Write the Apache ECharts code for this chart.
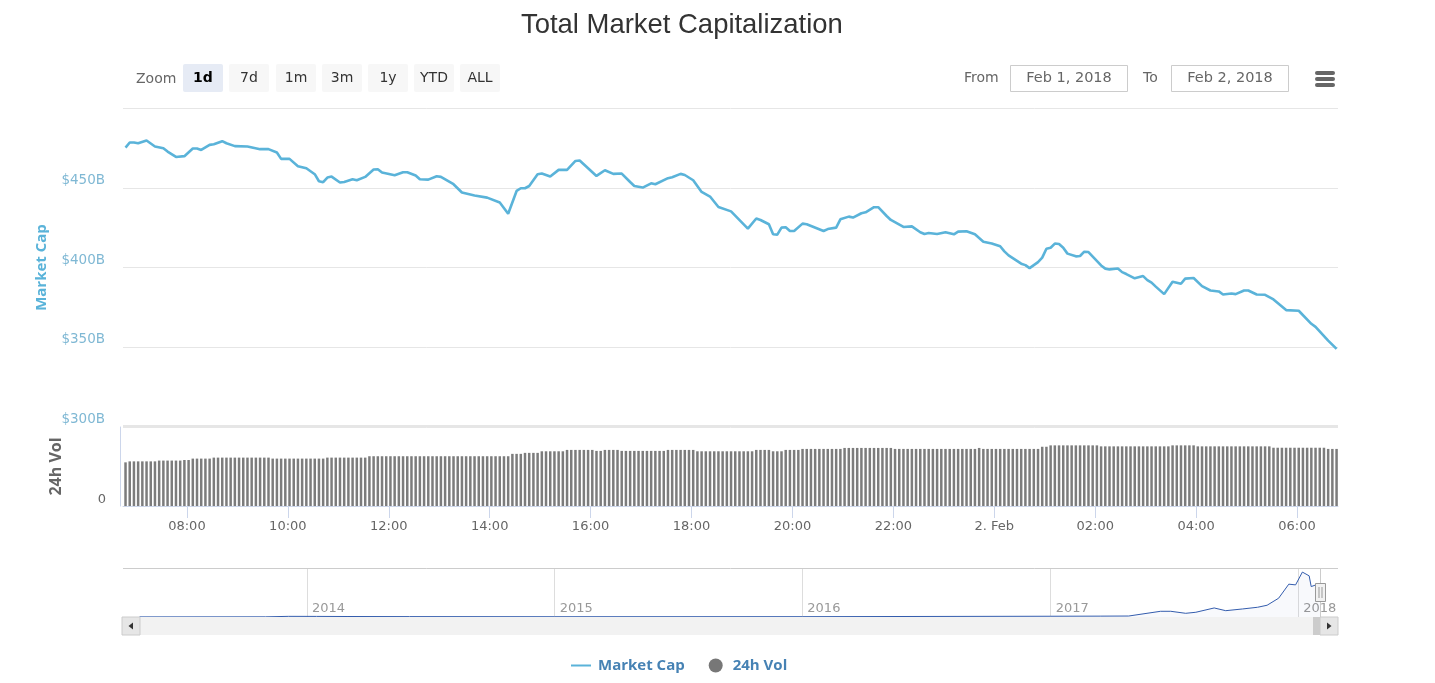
<!DOCTYPE html>
<html><head><meta charset="utf-8">
<style>html,body{margin:0;padding:0;background:#fff}#c{width:1435px;height:683px}</style>
<script src="https://cdn.jsdelivr.net/npm/echarts@6/dist/echarts.min.js"></script>
</head><body><div id="c"></div>
<script>
// ---- data ----
const titleText = 'Total Market Capitalization';
const seriesCap = 'Market Cap', seriesVol = '24h Vol';
const capTicks = [300, 350, 400, 450, 500];
const timeTickHours = [8, 10, 12, 14, 16, 18, 20, 22, 24, 26, 28, 30];
const rangeButtons = ['1d', '7d', '1m', '3m', '1y', 'YTD', 'ALL'];
const fromText = 'Feb 1, 2018', toText = 'Feb 2, 2018';
// Market cap ($B): step = number of 5-minute samples after the first sample
const capSteps = [0,1,2,3,5,7,9,10,12,14,16,17,18,20,21,23,24,26,29,32,34,36,37,39,41,43,45,46,47,48,49,51,52,54,55,57,59,60,61,64,66,67,69,70,72,74,75,78,80,83,86,89,91,93,94,95,96,98,99,101,103,105,107,108,112,114,116,118,120,121,123,125,126,129,130,132,133,135,137,139,141,144,148,150,151,153,154,155,156,157,158,159,161,162,166,167,169,170,172,173,175,176,178,179,181,182,185,187,189,190,191,193,195,197,198,200,202,204,206,208,209,210,213,214,215,217,218,219,220,221,222,223,224,226,227,228,229,232,233,234,236,237,238,240,242,243,244,245,247,249,251,252,254,256,258,260,261,263,264,266,267,269,271,273,276,279,282,283,286,288];
const capValues = [475.2,478.4,478.4,477.9,479.6,475.9,474.8,472.7,469.3,469.8,474.6,474.6,473.7,476.9,477.3,479.2,477.9,476.1,475.9,474.2,474.2,472.1,468.1,468.1,463.5,462.2,458.5,454.1,453.5,456.4,457.0,453.3,453.6,455.3,454.7,456.8,461.4,461.6,459.5,457.9,459.7,459.7,457.7,455.3,455.1,457.2,456.8,452.2,447.0,445.1,443.8,440.7,433.7,448.0,449.7,449.7,451.1,458.5,458.9,457.0,461.2,461.2,466.8,467.1,457.4,461.0,458.7,458.9,453.6,451.1,450.1,452.8,452.2,456.0,456.6,458.7,458.0,454.7,447.4,444.5,437.9,435.2,424.4,430.7,429.8,427.1,420.8,420.6,425.0,425.2,422.9,422.9,427.5,427.1,422.9,424.1,425.0,430.2,431.9,431.3,434.0,434.6,437.8,437.8,432.3,429.8,425.4,425.8,422.1,421.0,421.6,421.0,422.1,420.8,422.5,422.7,420.8,416.2,415.1,413.3,410.1,407.6,402.4,401.5,399.6,403.4,406.2,411.8,412.4,415.0,414.7,412.4,408.7,407.0,407.2,409.9,409.7,401.3,399.3,398.8,399.4,397.1,395.9,393.2,394.6,392.1,390.5,388.0,383.3,391.1,389.8,393.0,393.4,388.3,385.6,385.0,383.1,383.7,383.3,385.6,385.6,383.1,382.9,380.0,373.3,372.9,364.7,362.8,354.2,349.0];
// 24h volume ($B), as runs of equal-looking bars
const volRunLengths = [1,7,6,2,5,14,13,10,34,3,4,6,7,2,4,11,7,14,4,3,4,10,12,20,1,14,2,12,17,6,18,13,3];
const volRunValues = [22.1,22.6,23.0,23.3,24.0,24.5,24.0,24.5,25.2,26.4,26.9,27.7,28.4,27.9,28.4,27.9,28.4,27.7,28.4,27.7,28.4,28.9,29.4,28.9,29.4,28.9,30.0,30.7,30.2,30.7,30.2,29.5,28.9];
// Navigator: whole history of the market cap ($B)
const navDates = ['2013-04-29','2013-11-01','2013-12-05','2014-01-15','2014-03-01','2014-06-01','2015-01-01','2016-01-01','2017-01-01','2017-03-15','2017-04-26','2017-05-23','2017-06-12','2017-06-27','2017-07-19','2017-08-03','2017-08-30','2017-09-16','2017-10-11','2017-11-02','2017-11-16','2017-12-03','2017-12-18','2017-12-28','2018-01-07','2018-01-17','2018-01-20','2018-01-27','2018-02-02'];
const navCaps = [2,3,12,11,9,7,5,6,14,16,18,68,105,105,68,87,166,116,148,179,216,345,603,590,825,756,559,590,450];
const navYears = [2014, 2015, 2016, 2017, 2018];

// ---- build ----
const MIN = 60000, H = 3600000;
const sampleStart = new Date(2018, 1, 1, 6, 47).getTime();
const day0 = new Date(2018, 1, 1, 0, 0).getTime();
const capData = capSteps.map((s, i) => [sampleStart + s * 5 * MIN, capValues[i]]);
const volData = [];
volRunLengths.forEach((n, r) => { for (let k = 0; k < n; k++) volData.push([sampleStart + volData.length * 5 * MIN, volRunValues[r]]); });
const xMin = new Date(2018, 1, 1, 6, 44).getTime();
const xMax = xMin + 1444.7 * MIN;
const timeTicks = timeTickHours.map(h => day0 + h * H);
const navData = navDates.map((d, i) => { const p = d.split('-'); return [new Date(+p[0], p[1] - 1, +p[2]).getTime(), navCaps[i]]; });
const yearTicks = navYears.map(y => new Date(y, 0, 1).getTime());
const DAY = 24 * H;
const navMin = yearTicks[0] - 271.2 * DAY, navMax = navMin + 1790.7 * DAY;

const L = 123, W = 1215;
const uiFont = '"DejaVu Sans"';
const g = [];
const txt = (x, y, text, o = {}) => g.push({ type: 'text', x, y, z: 20, style: Object.assign({ text, fontFamily: uiFont, fontSize: 14, fill: '#666', verticalAlign: 'middle' }, o) });
const rect = (x, y, w, h, fill, o = {}) => g.push({ type: 'rect', z: 10, shape: { x, y, width: w, height: h, r: o.r || 0 }, style: { fill, stroke: o.stroke || null, lineWidth: o.lw || 0 } });
const line = (x1, y1, x2, y2, stroke, lw = 1) => g.push({ type: 'line', z: 10, shape: { x1, y1, x2, y2 }, style: { stroke, lineWidth: lw } });

txt(136, 79, 'Zoom', { fill: '#666' });
const btnX = [183, 229, 276, 322, 368, 414, 460];
rangeButtons.forEach((b, i) => {
  rect(btnX[i], 64, 40, 28, i === 0 ? '#e6ebf5' : '#f7f7f7', { r: 2 });
  txt(btnX[i] + 20, 78, b, { align: 'center', fill: i === 0 ? '#000' : '#333', fontWeight: i === 0 ? 'bold' : 'normal' });
});
txt(964, 78, 'From');
txt(1143, 78, 'To');
rect(1010.5, 65.5, 117, 26, '#fff', { stroke: '#ccc', lw: 1 });
rect(1171.5, 65.5, 117, 26, '#fff', { stroke: '#ccc', lw: 1 });
txt(1069, 78, fromText, { align: 'center', fontSize: 14.5 });
txt(1230, 78, toText, { align: 'center', fontSize: 14.5 });
[71, 77, 83].forEach(y => rect(1315, y, 20, 4, '#666', { r: 2 }));
// panel edges
line(L, 568.5, L + W, 568.5, '#ccc');
line(L, 426, L + W, 426, '#e6e6e6', 2);
// scrollbar
rect(122, 617, 1216, 18, '#f2f2f2');
rect(1313, 617, 8, 18, '#ccc');
rect(122, 617, 18, 18, '#e6e6e6', { stroke: '#ccc', lw: 1 });
rect(1320, 617, 18, 18, '#e6e6e6', { stroke: '#ccc', lw: 1 });
g.push({ type: 'polygon', z: 11, shape: { points: [[128.5, 626], [133, 622.5], [133, 629.5]] }, style: { fill: '#333' } });
g.push({ type: 'polygon', z: 11, shape: { points: [[1331.5, 626], [1327, 622.5], [1327, 629.5]] }, style: { fill: '#333' } });
// navigator handle
line(1320.5, 568, 1320.5, 617, '#ccc');
rect(1315.5, 583.5, 10, 18, '#f2f2f2', { stroke: '#999', lw: 1 });
line(1319, 587, 1319, 598, '#999');
line(1322, 587, 1322, 598, '#999');

const capFont = '"DejaVu Sans"';
const chart = echarts.init(document.getElementById('c'), null, { renderer: 'canvas' });
chart.setOption({
  animation: false,
  backgroundColor: '#fff',
  title: { text: titleText, left: 516, top: 7, textStyle: { fontFamily: '"Liberation Sans"', fontSize: 27.45, fontWeight: 'normal', color: '#333' } },
  legend: {
    left: 571, top: 658, itemWidth: 20, itemHeight: 14, itemGap: 24, padding: 0,
    textStyle: { fontFamily: '"Open Sans"', fontSize: 15, fontWeight: 'bold', color: '#4682b4', padding: [0, 0, 0, 2] },
    data: [{ name: seriesCap, icon: 'path://M0,7 L20,7 L20,9 L0,9 Z' }, { name: seriesVol, icon: 'circle', itemStyle: { color: '#777' } }]
  },
  grid: [
    { left: L, width: W, top: 108, height: 319 },
    { left: L, width: W, top: 427, height: 79 },
    { left: L, width: W, top: 568, height: 49 }
  ],
  xAxis: [
    { type: 'value', gridIndex: 0, min: xMin, max: xMax, show: false, splitLine: { show: false } },
    { type: 'value', gridIndex: 1, min: xMin, max: xMax,
      axisLine: { show: true, lineStyle: { color: '#ccd6eb' } },
      axisTick: { show: true, customValues: timeTicks, length: 12, lineStyle: { color: '#ccd6eb' } },
      splitLine: { show: false },
      axisLabel: { customValues: timeTicks, color: '#666', fontFamily: capFont, fontSize: 13, margin: 14, hideOverlap: false,
        formatter: v => { const d = new Date(v); return d.getHours() === 0 ? d.getDate() + '. Feb' : String(d.getHours()).padStart(2, '0') + ':00'; } } },
    { type: 'value', gridIndex: 2, min: navMin, max: navMax,
      axisLine: { show: false },
      axisTick: { show: true, inside: true, customValues: yearTicks, length: 49, lineStyle: { color: '#ddd' } },
      splitLine: { show: false },
      axisLabel: { inside: true, customValues: yearTicks, align: 'left', color: '#999', fontFamily: capFont, fontSize: 13, margin: 2, padding: [0, 0, 0, 5], hideOverlap: false,
        formatter: v => String(new Date(v).getFullYear()) } }
  ],
  yAxis: [
    { type: 'value', gridIndex: 0, min: capTicks[0], max: capTicks[capTicks.length - 1], interval: 50,
      name: seriesCap, nameLocation: 'middle', nameGap: 74,
      nameTextStyle: { color: '#5ab3d9', fontFamily: '"Open Sans"', fontSize: 15, fontWeight: 'bold' },
      axisLine: { show: false }, axisTick: { show: false },
      splitLine: { lineStyle: { color: '#e6e6e6' } },
      axisLabel: { formatter: v => v === capTicks[capTicks.length - 1] ? '' : '$' + v + 'B', color: '#7fb8d4', fontFamily: capFont, fontSize: 13.5, margin: 18, verticalAlign: 'bottom', lineHeight: 15 } },
    { type: 'value', gridIndex: 1, min: 0, max: 40, interval: 40, offset: 3,
      name: seriesVol, nameLocation: 'middle', nameGap: 56,
      nameTextStyle: { color: '#666', fontFamily: '"Open Sans"', fontSize: 16, fontWeight: 'bold' },
      axisLine: { show: true, lineStyle: { color: '#ccd6eb' } }, axisTick: { show: false },
      splitLine: { show: false },
      axisLabel: { formatter: v => v === 0 ? '0' : '', color: '#666', fontFamily: capFont, fontSize: 13, margin: 14, verticalAlign: 'bottom' } },
    { type: 'value', gridIndex: 2, min: 0, max: 900, show: false, splitLine: { show: false } }
  ],
  series: [
    { name: seriesCap, type: 'line', xAxisIndex: 0, yAxisIndex: 0, data: capData, showSymbol: false, color: '#5ab3d9', lineStyle: { width: 2.6, color: '#5ab3d9' }, z: 5 },
    { name: seriesVol, type: 'bar', xAxisIndex: 1, yAxisIndex: 1, data: volData, barWidth: 2.5, color: '#7c7c7c', itemStyle: { color: '#7c7c7c' } },
    { name: 'Navigator', type: 'line', xAxisIndex: 2, yAxisIndex: 2, data: navData, showSymbol: false, lineStyle: { width: 1, color: '#335cad' }, areaStyle: { color: 'rgba(51,92,173,0.05)' } }
  ],
  graphic: { elements: g }
});
</script></body></html>
